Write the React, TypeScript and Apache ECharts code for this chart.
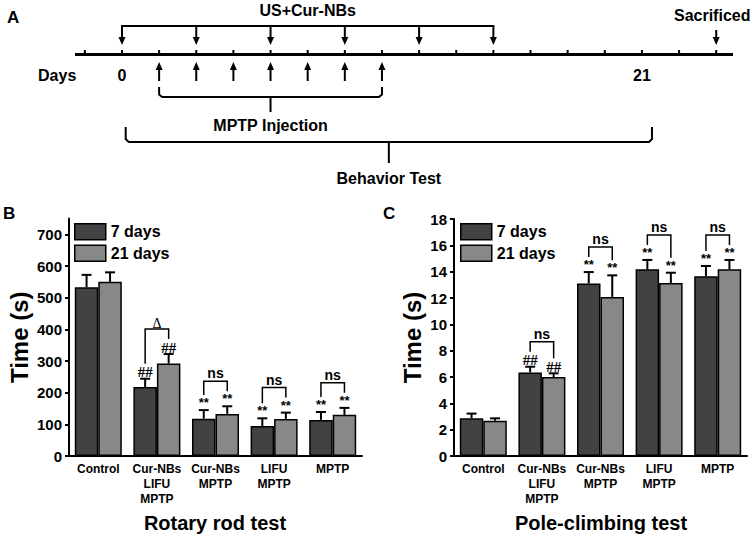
import React, { useEffect, useRef } from 'react';
import * as echarts from 'echarts';

// ---------- data ----------
const categories = ['Control', 'Cur-NBs\nLIFU\nMPTP', 'Cur-NBs\nMPTP', 'LIFU\nMPTP', 'MPTP'];
const seriesNames = ['7 days', '21 days'];

// Rotary rod test, time (s)
const rotary7 = [533, 218, 118, 95, 114];
const rotary7Err = [39, 26, 27, 24, 25];
const rotary21 = [550, 292, 133, 117, 130];
const rotary21Err = [30, 30, 24, 20, 22];
const rotary7Sig = ['', '##', '**', '**', '**'];
const rotary21Sig = ['', '##', '**', '**', '**'];
const rotaryPairSig = ['', 'Δ', 'ns', 'ns', 'ns'];
const rotaryTicks = [0, 100, 200, 300, 400, 500, 600, 700];

// Pole-climbing test, time (s)
const pole7 = [2.86, 6.35, 13.11, 14.18, 13.65];
const pole7Err = [0.36, 0.43, 0.86, 0.71, 0.78];
const pole21 = [2.68, 6.0, 12.08, 13.14, 14.18];
const pole21Err = [0.18, 0.28, 1.64, 0.78, 0.71];
const pole7Sig = ['', '##', '**', '**', '**'];
const pole21Sig = ['', '##', '**', '**', '**'];
const polePairSig = ['', 'ns', 'ns', 'ns', 'ns'];

// Timeline (positions in tick steps; 0 = day 0, 14 = day 21)
const timelineTicks = [-1, 0, 1, 2, 3, 4, 5, 6, 7, 8, 9, 10, 11, 12, 13, 14, 15, 16];
const usCurNBsPoints = [0, 2, 4, 6, 8, 10];
const mptpPoints = [1, 2, 3, 4, 5, 6, 7];
const sacrificedPoint = 16;
const dayLabelPoints = [0, 14];
const dayLabelTexts = ['0', '21'];
const behaviorSpan = [0.1, 14.27];

// ---------- style ----------
const FONT = '"Liberation Sans", Arial, sans-serif';
const SERIF = '"Liberation Serif", "Times New Roman", serif';
const DARK = '#424242';
const LIGHT = '#888888';
const BW = 23.5;

function txt(text: string, x: number, y: number, font: string, align = 'center', vAlign = 'middle') {
  return {
    type: 'text',
    style: {
      text, x, y, font, fill: '#000',
      align, textAlign: align, verticalAlign: vAlign, textVerticalAlign: vAlign,
    },
  };
}

function ln(x1: number, y1: number, x2: number, y2: number, w = 2) {
  return { type: 'line', shape: { x1, y1, x2, y2 }, style: { stroke: '#000', lineWidth: w } };
}

function annotSeries(
  g: number,
  v7: number[], e7: number[], v21: number[], e21: number[],
  s7: string[], s21: string[], pair: string[],
) {
  return {
    type: 'custom',
    xAxisIndex: g,
    yAxisIndex: g,
    z: 10,
    silent: true,
    data: categories.map((_, i) => [i, 0]),
    encode: { x: 0, y: 1 },
    renderItem: (params: any, api: any) => {
      const i = params.dataIndex;
      const c = api.coord([i, 0])[0];
      const xs = [c - BW / 2, c + BW / 2];
      const vals = [v7[i], v21[i]];
      const errs = [e7[i], e21[i]];
      const sigs = [s7[i], s21[i]];
      const children: any[] = [];
      const caps: number[] = [];
      for (let k = 0; k < 2; k++) {
        const yTop = api.coord([i, vals[k]])[1];
        const yCap = api.coord([i, vals[k] + errs[k]])[1];
        caps.push(yCap);
        children.push(ln(xs[k], yTop, xs[k], yCap, 2));
        children.push(ln(xs[k] - 5, yCap, xs[k] + 5, yCap, 2));
        if (sigs[k] === '##') {
          children.push(txt('##', xs[k], yCap + 1, `bold 15px ${SERIF}`, 'center', 'bottom'));
        } else if (sigs[k]) {
          children.push(txt(sigs[k], xs[k], yCap - 1, `bold 13px ${FONT}`, 'center', 'bottom'));
        }
      }
      if (pair[i]) {
        const legs = caps.map((y) => y - 15);
        const top = Math.min(legs[0], legs[1]) - 10;
        children.push({
          type: 'polyline',
          shape: { points: [[xs[0], legs[0]], [xs[0], top], [xs[1], top], [xs[1], legs[1]]] },
          style: { stroke: '#000', lineWidth: 1.5, fill: 'none' },
        });
        if (pair[i] === 'Δ') {
          children.push(txt('Δ', c, top + 1, `14px ${SERIF}`, 'center', 'bottom'));
        } else {
          children.push(txt(pair[i], c, top - 1, `bold 14px ${FONT}`, 'center', 'bottom'));
        }
      }
      return { type: 'group', children };
    },
  };
}

function timelineSeries() {
  return {
    type: 'custom',
    xAxisIndex: 2,
    yAxisIndex: 2,
    silent: true,
    data: [[0, 0]],
    encode: { x: 0, y: 1 },
    renderItem: (params: any, api: any) => {
      const X = (p: number) => api.coord([p, 0])[0];
      const Y = (py: number) => api.coord([0, py])[1];
      const cs = params.coordSys;
      const ch: any[] = [];
      const downArrow = (x: number, y0: number) => {
        ch.push(ln(x, Y(y0), x, Y(39), 2));
        ch.push({ type: 'polygon', shape: { points: [[x - 3.5, Y(37)], [x + 3.5, Y(37)], [x, Y(45)]] }, style: { fill: '#000' } });
      };
      const upArrow = (x: number) => {
        ch.push(ln(x, Y(81), x, Y(68), 2));
        ch.push({ type: 'polygon', shape: { points: [[x - 3.5, Y(70)], [x + 3.5, Y(70)], [x, Y(62)]] }, style: { fill: '#000' } });
      };
      // main line
      ch.push(ln(cs.x, Y(54.5), cs.x + cs.width, Y(54.5), 3));
      timelineTicks.forEach((t) => ch.push(ln(X(t), Y(50), X(t), Y(54), 2)));
      // US + Cur-NBs
      const u0 = X(usCurNBsPoints[0]);
      const u1 = X(usCurNBsPoints[usCurNBsPoints.length - 1]);
      ch.push(ln(u0 - 1, Y(26), u1 + 1, Y(26), 2));
      usCurNBsPoints.forEach((p) => downArrow(X(p), 26));
      ch.push(txt('US+Cur-NBs', (u0 + u1) / 2, Y(10), `bold 16px ${FONT}`));
      // Sacrificed
      downArrow(X(sacrificedPoint), 30);
      ch.push(txt('Sacrificed', X(sacrificedPoint) - 4, Y(15), `bold 16px ${FONT}`));
      // Days labels
      ch.push(txt('Days', X(-2.26), Y(75), `bold 16px ${FONT}`, 'left'));
      dayLabelPoints.forEach((p, k) => ch.push(txt(dayLabelTexts[k], X(p), Y(75), `bold 16px ${FONT}`)));
      // MPTP injections
      mptpPoints.forEach((p) => upArrow(X(p)));
      const m0 = X(mptpPoints[0]);
      const m1 = X(mptpPoints[mptpPoints.length - 1]);
      const mm = (m0 + m1) / 2;
      ch.push({
        type: 'polyline',
        shape: { points: [[m0, Y(87)], [m0, Y(94.5)], [m0 + 3, Y(97)], [m1 - 3, Y(97)], [m1, Y(94.5)], [m1, Y(87)]] },
        style: { stroke: '#000', lineWidth: 2, fill: 'none' },
      });
      ch.push(ln(mm, Y(97), mm, Y(112), 2));
      ch.push(txt('MPTP Injection', mm, Y(125), `bold 16px ${FONT}`));
      // Behavior test
      const b0 = X(behaviorSpan[0]);
      const b1 = X(behaviorSpan[1]);
      const bm = (b0 + b1) / 2;
      ch.push({
        type: 'polyline',
        shape: { points: [[b0, Y(127)], [b0, Y(139)], [b0 + 3, Y(142)], [b1 - 3, Y(142)], [b1, Y(139)], [b1, Y(127)]] },
        style: { stroke: '#000', lineWidth: 2, fill: 'none' },
      });
      ch.push(ln(bm, Y(142), bm, Y(163), 2));
      ch.push(txt('Behavior Test', bm, Y(178), `bold 16px ${FONT}`));
      return { type: 'group', children: ch };
    },
  };
}

function barSeries(g: number, name: string, data: number[], color: string) {
  return {
    type: 'bar',
    name,
    xAxisIndex: g,
    yAxisIndex: g,
    data,
    barWidth: BW,
    barGap: '0%',
    z: 3,
    itemStyle: { color, borderColor: '#000', borderWidth: 1.5 },
  };
}

const xAxisCommon = {
  type: 'category',
  data: categories,
  axisLine: { lineStyle: { color: '#000', width: 2 } },
  axisTick: { show: false },
  axisLabel: {
    interval: 0, margin: 5, color: '#000', fontWeight: 'bold', fontSize: 12,
    lineHeight: 15, fontFamily: FONT,
  },
  splitLine: { show: false },
};

const yAxisCommon = {
  type: 'value',
  name: 'Time (s)',
  nameLocation: 'middle',
  nameTextStyle: { color: '#000', fontWeight: 'bold', fontSize: 24, fontFamily: FONT },
  axisLine: { show: true, lineStyle: { color: '#000', width: 2 } },
  axisTick: { show: true, inside: false, length: 4, lineStyle: { color: '#000', width: 2 } },
  splitLine: { show: false },
};

const yLabel = { color: '#000', fontWeight: 'bold', fontSize: 15, fontFamily: FONT, margin: 7 };

export default function App() {
  const ref = useRef<HTMLDivElement>(null);
  useEffect(() => {
    if (!ref.current) return;
    const chart = echarts.init(ref.current, null, { renderer: 'svg' });
    const legendCommon = {
      orient: 'vertical',
      data: seriesNames,
      icon: 'rect',
      itemWidth: 31,
      itemHeight: 16,
      itemGap: 4,
      padding: 0,
      selectedMode: false,
      textStyle: { color: '#000', fontWeight: 'bold', fontSize: 16, fontFamily: FONT },
      itemStyle: { borderColor: '#000', borderWidth: 1.5 },
    };
    chart.setOption({
      animation: false,
      backgroundColor: '#fff',
      grid: [
        { left: 69, top: 218.5, width: 293, height: 237.5 },
        { left: 454, top: 219, width: 293, height: 237 },
        { left: 75, top: 0, width: 658, height: 200 },
      ],
      legend: [
        { ...legendCommon, left: 74, top: 223 },
        { ...legendCommon, left: 460, top: 223 },
      ],
      xAxis: [
        { ...xAxisCommon, gridIndex: 0 },
        { ...xAxisCommon, gridIndex: 1 },
        { type: 'value', gridIndex: 2, min: -1.265, max: 16.452, show: false },
      ],
      yAxis: [
        {
          ...yAxisCommon, gridIndex: 0, min: 0, max: 750, interval: 100, nameGap: 38,
          axisLabel: { ...yLabel, customValues: rotaryTicks },
          axisTick: { ...yAxisCommon.axisTick, customValues: rotaryTicks },
        },
        {
          ...yAxisCommon, gridIndex: 1, min: 0, max: 18, interval: 2, nameGap: 30,
          axisLabel: { ...yLabel },
        },
        { type: 'value', gridIndex: 2, min: 0, max: 200, inverse: true, show: false },
      ],
      series: [
        barSeries(0, seriesNames[0], rotary7, DARK),
        barSeries(0, seriesNames[1], rotary21, LIGHT),
        barSeries(1, seriesNames[0], pole7, DARK),
        barSeries(1, seriesNames[1], pole21, LIGHT),
        annotSeries(0, rotary7, rotary7Err, rotary21, rotary21Err, rotary7Sig, rotary21Sig, rotaryPairSig),
        annotSeries(1, pole7, pole7Err, pole21, pole21Err, pole7Sig, pole21Sig, polePairSig),
        timelineSeries(),
      ],
      graphic: [
        { type: 'text', left: 7, top: 9, style: { text: 'A', font: `bold 17px ${FONT}`, fill: '#000' } },
        { type: 'text', left: 3, top: 205, style: { text: 'B', font: `bold 17px ${FONT}`, fill: '#000' } },
        { type: 'text', left: 383, top: 205, style: { text: 'C', font: `bold 17px ${FONT}`, fill: '#000' } },
        {
          type: 'text', x: 215, y: 523,
          style: { text: 'Rotary rod test', font: `bold 20px ${FONT}`, fill: '#000', align: 'center', textAlign: 'center', verticalAlign: 'middle', textVerticalAlign: 'middle' },
        },
        {
          type: 'text', x: 601, y: 523,
          style: { text: 'Pole-climbing test', font: `bold 20px ${FONT}`, fill: '#000', align: 'center', textAlign: 'center', verticalAlign: 'middle', textVerticalAlign: 'middle' },
        },
      ],
    });
    return () => chart.dispose();
  }, []);
  return (
    <div
      ref={ref}
      style={{ position: 'absolute', left: 0, top: 0, width: 753, height: 536, background: '#fff' }}
    />
  );
}
